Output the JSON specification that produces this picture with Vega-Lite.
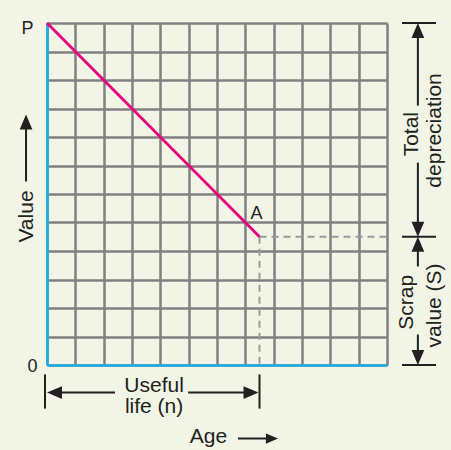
{
  "$schema": "https://vega.github.io/schema/vega-lite/v6.json",
  "width": 340,
  "height": 342,
  "autosize": {"type": "none"},
  "padding": {"left": 47, "top": 23, "right": 64, "bottom": 85},
  "background": "#f2f5e6",
  "config": {
    "view": {"stroke": null},
    "font": "Liberation Sans",
    "axis": {
      "values": [1, 2, 3, 4, 5, 6, 7, 8, 9, 10, 11, 12],
      "grid": true,
      "gridColor": "#808080",
      "gridWidth": 2.5,
      "gridOpacity": 1,
      "ticks": false,
      "labels": false,
      "title": null,
      "domainColor": "#1aaee8",
      "domainWidth": 2.5
    }
  },
  "datasets": {
    "line": [{"x": 0, "y": 12}, {"x": 7.5, "y": 4.5}],
    "dash": [
      {"x": 7.5, "y": 4.5, "x2": 12, "y2": 4.5},
      {"x": 7.5, "y": 4.5, "x2": 7.5, "y2": 0}
    ],
    "rules": [
      {"x": -0.07, "y": -0.33, "x2": -0.07, "y2": -1.53},
      {"x": 7.5, "y": -0.33, "x2": 7.5, "y2": -1.53},
      {"x": 0.25, "y": -0.965, "x2": 2.4, "y2": -0.965},
      {"x": 4.98, "y": -0.965, "x2": 7.2, "y2": -0.965},
      {"x": 6.74, "y": -2.58, "x2": 7.94, "y2": -2.58},
      {"x": -0.74, "y": 6.44, "x2": -0.74, "y2": 8.5},
      {"x": 12.53, "y": 12, "x2": 13.73, "y2": 12},
      {"x": 12.53, "y": 4.5, "x2": 13.73, "y2": 4.5},
      {"x": 12.53, "y": 0, "x2": 13.73, "y2": 0},
      {"x": 13.09, "y": 11.74, "x2": 13.09, "y2": 9.1},
      {"x": 13.09, "y": 7.1, "x2": 13.09, "y2": 4.76},
      {"x": 13.09, "y": 4.24, "x2": 13.09, "y2": 3.46},
      {"x": 13.09, "y": 1.07, "x2": 13.09, "y2": 0.26}
    ],
    "heads": [
      {"x": 0.265, "y": -0.965, "dir": "left"},
      {"x": 7.2, "y": -0.965, "dir": "right"},
      {"x": -0.74, "y": 8.53, "dir": "up"},
      {"x": 13.09, "y": 11.74, "dir": "up"},
      {"x": 13.09, "y": 4.76, "dir": "down"},
      {"x": 13.09, "y": 4.24, "dir": "up"},
      {"x": 13.09, "y": 0.26, "dir": "down"}
    ],
    "agehead": [{"x": 7.94, "y": -2.58, "dir": "right"}],
    "htext": [
      {"x": 3.78, "y": -0.93, "label": "Useful"},
      {"x": 3.78, "y": -1.67, "label": "life (n)"},
      {"x": 5.7, "y": -2.75, "label": "Age"}
    ],
    "small": [
      {"x": -0.69, "y": 11.63, "label": "P"},
      {"x": -0.51, "y": -0.23, "label": "0"},
      {"x": 7.39, "y": 5.14, "label": "A"}
    ],
    "vtext": [
      {"x": -0.49, "y": 5.21, "label": "Value"},
      {"x": 13.09, "y": 8.1, "label": "Total"},
      {"x": 13.9, "y": 8.23, "label": "depreciation"},
      {"x": 12.93, "y": 2.2, "label": "Scrap"},
      {"x": 13.9, "y": 2.09, "label": "value (S)"}
    ]
  },
  "encoding": {
    "x": {"field": "x", "type": "quantitative", "scale": {"domain": [0, 12], "nice": false, "zero": false}},
    "y": {"field": "y", "type": "quantitative", "scale": {"domain": [0, 12], "nice": false, "zero": false}}
  },
  "layer": [
    {
      "data": {"name": "dash"},
      "mark": {"type": "rule", "color": "#9a9a9a", "strokeWidth": 2, "strokeDash": [7, 5]},
      "encoding": {
        "x2": {"field": "x2"},
        "y2": {"field": "y2"}
      }
    },
    {
      "data": {"name": "line"},
      "mark": {"type": "line", "color": "#e6007e", "strokeWidth": 2.8},
      "encoding": {}
    },
    {
      "data": {"name": "rules"},
      "mark": {"type": "rule", "color": "#231f20", "strokeWidth": 2},
      "encoding": {
        "x2": {"field": "x2"},
        "y2": {"field": "y2"}
      }
    },
    {
      "data": {"name": "heads"},
      "mark": {"type": "point", "filled": true, "color": "#231f20", "size": 225, "opacity": 1, "strokeWidth": 0},
      "encoding": {
        "shape": {
          "field": "dir",
          "type": "nominal",
          "legend": null,
          "scale": {
            "domain": ["left", "right", "up", "down"],
            "range": ["M-1,0L1,-0.85L1,0.85Z", "M1,0L-1,-0.85L-1,0.85Z", "M0,-1L-0.85,1L0.85,1Z", "M0,1L-0.85,-1L0.85,-1Z"]
          }
        }
      }
    },
    {
      "data": {"name": "agehead"},
      "mark": {"type": "point", "filled": true, "color": "#231f20", "size": 144, "opacity": 1, "strokeWidth": 0, "shape": "M1,0L-1,-0.85L-1,0.85Z"},
      "encoding": {}
    },
    {
      "data": {"name": "htext"},
      "mark": {"type": "text", "fontSize": 21, "color": "#231f20", "align": "center", "baseline": "alphabetic"},
      "encoding": {"text": {"field": "label"}}
    },
    {
      "data": {"name": "small"},
      "mark": {"type": "text", "fontSize": 18, "color": "#231f20", "align": "center", "baseline": "alphabetic"},
      "encoding": {"text": {"field": "label"}}
    },
    {
      "data": {"name": "vtext"},
      "mark": {"type": "text", "fontSize": 21, "color": "#231f20", "align": "center", "baseline": "alphabetic", "angle": 270},
      "encoding": {"text": {"field": "label"}}
    }
  ]
}
